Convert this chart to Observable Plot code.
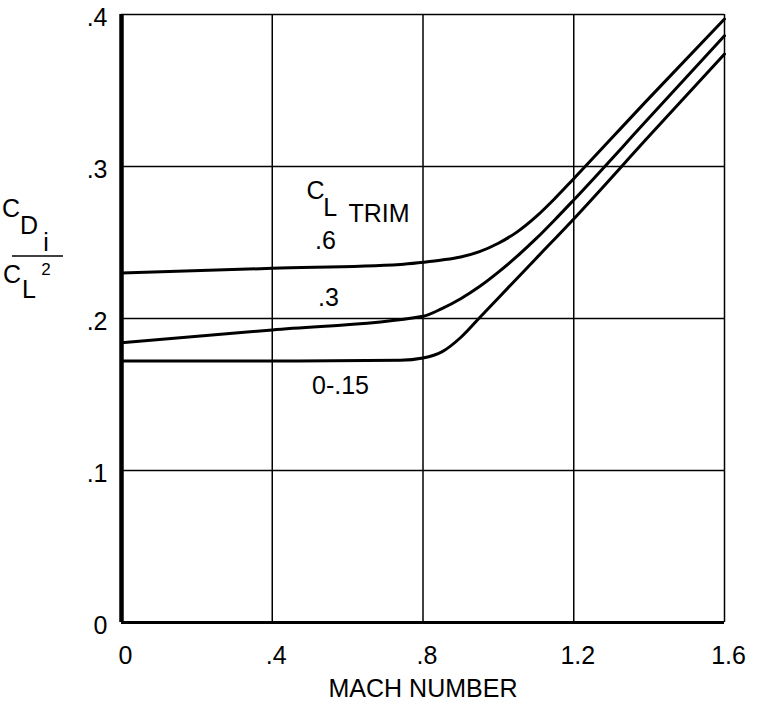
<!DOCTYPE html>
<html>
<head>
<meta charset="utf-8">
<script src="https://cdn.jsdelivr.net/npm/d3@7"></script>
<script src="https://cdn.jsdelivr.net/npm/@observablehq/plot@0.6"></script>
<style>
  html, body { margin: 0; padding: 0; background: white; }
</style>
</head>
<body>
<div id="chart"></div>
<script>
// ---- data ----
const seriesNames = [".6", ".3", "0-.15"];

const mach06 = [0, 0.4, 0.74, 0.8, 0.85, 0.9, 0.95, 1.0, 1.05, 1.1, 1.15, 1.2, 1.4, 1.6];
const cdi06  = [0.230, 0.233, 0.2355, 0.237, 0.2385, 0.2405, 0.244, 0.2495, 0.257, 0.267, 0.279, 0.292, 0.345, 0.397];

const mach03 = [0, 0.4, 0.8, 0.85, 0.9, 0.95, 1.0, 1.05, 1.1, 1.15, 1.2, 1.4, 1.6];
const cdi03  = [0.184, 0.1925, 0.2015, 0.2065, 0.213, 0.221, 0.2305, 0.241, 0.2525, 0.265, 0.278, 0.332, 0.386];

const mach00 = [0, 0.4, 0.74, 0.8, 0.85, 0.9, 0.95, 1.0, 1.1, 1.2, 1.4, 1.6];
const cdi00  = [0.172, 0.172, 0.1725, 0.174, 0.178, 0.1875, 0.2005, 0.2135, 0.2395, 0.2655, 0.320, 0.374];

const xTicks = [0, 0.4, 0.8, 1.2, 1.6];
const xTickLabels = ["0", ".4", ".8", "1.2", "1.6"];
const yTicks = [0, 0.1, 0.2, 0.3, 0.4];
const yTickLabels = ["0", ".1", ".2", ".3", ".4"];

// annotation texts (anchored in data units)
const curveLabels = [".6", ".3", "0-.15"];
const curveLabelX = [0.541, 0.549, 0.581];
const curveLabelY = [0.2513, 0.2138, 0.1553];

// ---- build table ----
const rows = [];
[[mach06, cdi06], [mach03, cdi03], [mach00, cdi00]].forEach(([xs, ys], i) => {
  xs.forEach((m, j) => rows.push({series: seriesNames[i], mach: m, cdi: ys[j]}));
});
const labelRows = curveLabels.map((t, i) => ({t, x: curveLabelX[i], y: curveLabelY[i]}));

const FONT = "'Liberation Sans', Arial, sans-serif";
const FS = 25;

const chart = Plot.plot({
  width: 768,
  height: 709,
  marginLeft: 121,
  marginRight: 44,
  marginTop: 14,
  marginBottom: 87,
  x: {domain: [0, 1.6]},
  y: {domain: [0, 0.4]},
  style: {fontFamily: FONT, fontSize: FS + "px", color: "black", background: "white"},
  marks: [
    Plot.gridX(xTicks, {stroke: "black", strokeOpacity: 1, strokeWidth: 1.5}),
    Plot.gridY(yTicks, {stroke: "black", strokeOpacity: 1, strokeWidth: 1.5}),
    Plot.ruleX([0], {stroke: "black", strokeWidth: 4.5}),
    Plot.ruleY([0], {stroke: "black", strokeWidth: 3}),
    Plot.axisX(xTicks, {
      tickSize: 0, tickPadding: 24, dx: 4,
      tickFormat: (d) => xTickLabels[xTicks.indexOf(d)],
      label: null, fontSize: FS
    }),
    Plot.axisY(yTicks, {
      tickSize: 0, tickPadding: 14, dy: 3,
      tickFormat: (d) => yTickLabels[yTicks.indexOf(d)],
      label: null, fontSize: FS
    }),
    Plot.line(rows, {
      x: "mach", y: "cdi", z: "series",
      curve: "monotone-x", stroke: "black", strokeWidth: 3
    }),
    Plot.text(labelRows, {x: "x", y: "y", text: "t", fontSize: FS, fill: "black"}),
    // C_L TRIM heading
    Plot.text(["C"], {x: [0.515], y: [0.2836], text: d => d, fontSize: FS}),
    Plot.text(["L"], {x: [0.554], y: [0.2724], text: d => d, fontSize: FS}),
    Plot.text(["TRIM"], {x: [0.602], y: [0.2690], text: d => d, fontSize: FS, textAnchor: "start"}),
    // x-axis title
    Plot.text(["MACH NUMBER"], {frameAnchor: "bottom", dy: 66, text: d => d, fontSize: FS, lineAnchor: "middle"})
  ]
});

// y-axis title as a stacked fraction C_Di / C_L^2
const svg = d3.select(chart);
const g = svg.append("g").attr("font-family", FONT).attr("fill", "black");
g.append("text").attr("x", 11).attr("y", 217).attr("font-size", FS).text("C");
g.append("text").attr("x", 29).attr("y", 234).attr("font-size", FS).text("D");
g.append("text").attr("x", 46).attr("y", 251).attr("font-size", FS).text("i");
g.append("line").attr("x1", 12).attr("x2", 63).attr("y1", 256).attr("y2", 256)
  .attr("stroke", "black").attr("stroke-width", 1.5);
g.append("text").attr("x", 12).attr("y", 283).attr("font-size", FS).text("C");
g.append("text").attr("x", 29).attr("y", 298).attr("font-size", FS).text("L");
g.append("text").attr("x", 46).attr("y", 275).attr("font-size", 17).text("2");

document.getElementById("chart").appendChild(chart);
</script>
</body>
</html>
